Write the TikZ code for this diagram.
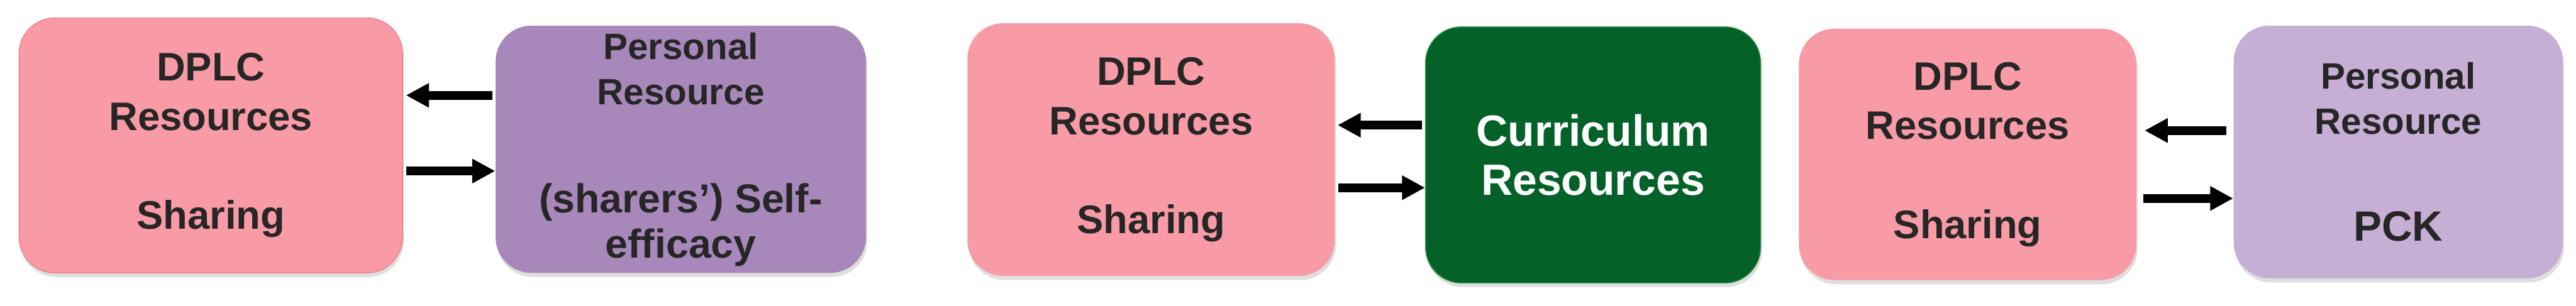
\documentclass[tikz,border=0pt]{standalone}
\usepackage{fontspec}
\setmainfont{Liberation Sans}
\usetikzlibrary{arrows.meta,shadows}
\definecolor{dplcpink}{HTML}{F89BA6}
\definecolor{dplcedge}{HTML}{F27A88}
\definecolor{persdark}{HTML}{A887BA}
\definecolor{perslight}{HTML}{C7AED4}
\definecolor{currgreen}{HTML}{046128}
\definecolor{curredge}{HTML}{3E9B52}
\definecolor{inktext}{HTML}{262626}
\begin{document}
\begin{tikzpicture}[>={Triangle[length=11pt,width=11pt]},
  res/.style={rounded corners=0.6cm,align=center,inner sep=0pt,text=inktext,
    font=\bfseries\fontsize{19}{23.6}\selectfont,
    drop shadow={shadow xshift=0.02cm,shadow yshift=-0.07cm,opacity=0.25}},
  pers/.style={res,font=\bfseries\fontsize{17.5}{21.6}\selectfont},
  link/.style={line width=4.3pt,->,shorten <=0.05cm}]
\useasboundingbox (0,0) rectangle (43.19,5.13);
\node[res,fill=dplcpink,draw=dplcedge,minimum width=6.43cm,minimum height=4.28cm] (dplcA) at (3.535,2.69)
  {DPLC\\Resources\\[23.6pt]Sharing};
\node[pers,fill=persdark,minimum width=6.21cm,minimum height=4.15cm] (persB) at (11.415,2.625)
  {Personal\\Resource\\[30pt]{\fontsize{19.3}{21}\selectfont (sharers’) Self-}\\{\fontsize{19.3}{21}\selectfont efficacy}};
\node[res,fill=dplcpink,minimum width=6.16cm,minimum height=4.24cm] (dplcC) at (19.30,2.62)
  {DPLC\\Resources\\[23.6pt]Sharing};
\node[res,fill=currgreen,draw=curredge,text=white,minimum width=5.62cm,minimum height=4.30cm,
  font=\bfseries\fontsize{20.9}{23.6}\selectfont] (currD) at (26.71,2.53)
  {Curriculum\\Resources};
\node[res,fill=dplcpink,minimum width=5.66cm,minimum height=4.22cm] (dplcE) at (32.99,2.54)
  {DPLC\\Resources\\[23.6pt]Sharing};
\node[pers,fill=perslight,minimum width=5.52cm,minimum height=4.24cm] (persF) at (40.21,2.58)
  {Personal\\Resource\\[29.6pt]{\fontsize{20.2}{21.3}\selectfont PCK}};
\draw[link,shorten >=0.05cm] (persB.west |- 0,3.53) -- (dplcA.east |- 0,3.53);
\draw[link] (dplcA.east |- 0,2.26) -- (persB.west |- 0,2.26);
\draw[link,shorten >=0.04cm] (currD.west |- 0,3.03) -- (dplcC.east |- 0,3.03);
\draw[link] (dplcC.east |- 0,1.98) -- (currD.west |- 0,1.98);
\draw[link,shorten <=0.12cm,shorten >=0.13cm] (persF.west |- 0,2.94) -- (dplcE.east |- 0,2.94);
\draw[link,shorten <=0.11cm] (dplcE.east |- 0,1.80) -- (persF.west |- 0,1.80);
\end{tikzpicture}
\end{document}
